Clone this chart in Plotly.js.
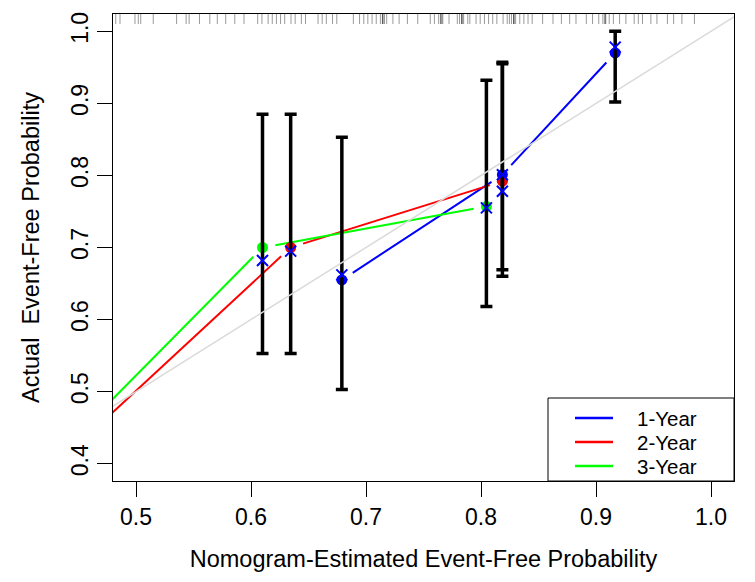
<!DOCTYPE html>
<html>
<head>
<meta charset="utf-8">
<script src="https://cdn.plot.ly/plotly-3.0.1.min.js"></script>
<style>
  html, body { margin: 0; padding: 0; background: #ffffff; }
  #chart { width: 755px; height: 582px; }
</style>
</head>
<body>
<div id="chart"></div>
<script>
// ---- Calibration groups: nomogram-estimated vs observed event-free probability ----
// 1-year
const year1Pred = [0.679, 0.8186, 0.9167];
const year1Obs  = [0.655, 0.801, 0.970];
const year1Lo   = [0.503, 0.660, 0.902];
const year1Hi   = [0.853, 0.957, 1.000];
const year1Corr = [0.662, 0.801, 0.978];
// 2-year (lowest group lies left of the shown range)
const year2Pred = [0.452, 0.6345, 0.8186];
const year2Obs  = [0.430, 0.700, 0.792];
const year2Lo   = [null, 0.553, 0.669];
const year2Hi   = [null, 0.885, 0.955];
const year2Corr = [null, 0.695, 0.778];
// 3-year (lowest group lies left of the shown range)
const year3Pred = [0.452, 0.610, 0.8047];
const year3Obs  = [0.445, 0.700, 0.757];
const year3Lo   = [null, 0.553, 0.618];
const year3Hi   = [null, 0.885, 0.932];
const year3Corr = [null, 0.682, 0.755];

// Individual nomogram predictions (rug along the top edge)
const rugPred = [
  0.4824, 0.4861, 0.4991, 0.5020, 0.5041, 0.5150, 0.5353, 0.5436, 0.5462, 0.5552,
  0.5642, 0.5707, 0.5780, 0.5859, 0.5939, 0.6058, 0.6095, 0.6149, 0.6185, 0.6221,
  0.6257, 0.6293, 0.6348, 0.6384, 0.6438, 0.6474, 0.6583, 0.6619, 0.6655, 0.6709,
  0.6746, 0.6890, 0.6944, 0.6981, 0.7016, 0.7053, 0.7089, 0.7125, 0.7143, 0.7143,
  0.7150, 0.7161, 0.7180, 0.7234, 0.7288, 0.7360, 0.7450, 0.7559, 0.7595, 0.7632,
  0.7650, 0.7650, 0.7660, 0.7668, 0.7722, 0.7794, 0.7813, 0.7831, 0.7831, 0.7840,
  0.7849, 0.7885, 0.7903, 0.7957, 0.7993, 0.8030, 0.8066, 0.8102, 0.8138, 0.8192,
  0.8228, 0.8247, 0.8265, 0.8283, 0.8283, 0.8290, 0.8301, 0.8337, 0.8373, 0.8409,
  0.8445, 0.8536, 0.8626, 0.8699, 0.8771, 0.8826, 0.8916, 0.8970, 0.9024, 0.9060,
  0.9078, 0.9078, 0.9085, 0.9115, 0.9151, 0.9205, 0.9260, 0.9332, 0.9368, 0.9404,
  0.9477, 0.9530, 0.9621, 0.9675, 0.9747, 0.9856
];

// Ideal calibration (45-degree reference)
const idealLine = [0.3, 1.1];

const xTicks = [0.5, 0.6, 0.7, 0.8, 0.9, 1.0];
const yTicks = [0.4, 0.5, 0.6, 0.7, 0.8, 0.9, 1.0];
const xTickText = ["0.5", "0.6", "0.7", "0.8", "0.9", "1.0"];
const yTickText = ["0.4", "0.5", "0.6", "0.7", "0.8", "0.9", "1.0"];

const seriesNames = ["1-Year", "2-Year", "3-Year"];
const seriesColors = ["#0000ff", "#ff0000", "#00ff00"];

// ---- plot geometry ----
const W = 755, H = 582;
const M = { l: 113, r: 21, t: 14, b: 101 };
const plotW = W - M.l - M.r, plotH = H - M.t - M.b;
const xRange = [0.48, 1.02];
const yRange = [0.376, 1.024];
const FONT = "Liberation Sans, Arial, Helvetica, sans-serif";

// Connect points like type="b": each segment stops short of its points
function gappedPath(xs, ys, gapPx) {
  const sx = plotW / (xRange[1] - xRange[0]);
  const sy = plotH / (yRange[1] - yRange[0]);
  const ox = [], oy = [];
  for (let i = 0; i < xs.length - 1; i++) {
    const dx = (xs[i + 1] - xs[i]) * sx, dy = (ys[i + 1] - ys[i]) * sy;
    const L = Math.hypot(dx, dy);
    if (L <= 2 * gapPx) continue;
    const f = gapPx / L;
    ox.push(xs[i] + (xs[i + 1] - xs[i]) * f, xs[i + 1] - (xs[i + 1] - xs[i]) * f, null);
    oy.push(ys[i] + (ys[i + 1] - ys[i]) * f, ys[i + 1] - (ys[i + 1] - ys[i]) * f, null);
  }
  return { x: ox, y: oy };
}

const groups = [
  { pred: year1Pred, obs: year1Obs, lo: year1Lo, hi: year1Hi, corr: year1Corr },
  { pred: year2Pred, obs: year2Obs, lo: year2Lo, hi: year2Hi, corr: year2Corr },
  { pred: year3Pred, obs: year3Obs, lo: year3Lo, hi: year3Hi, corr: year3Corr }
];

const traces = [];

// connecting lines
groups.forEach((g, k) => {
  const p = gappedPath(g.pred, g.obs, 13);
  traces.push({
    x: p.x, y: p.y, mode: "lines", type: "scatter", showlegend: false,
    line: { color: seriesColors[k], width: 2 }, hoverinfo: "skip"
  });
});

// observed points
groups.forEach((g, k) => {
  traces.push({
    x: g.pred, y: g.obs, mode: "markers", type: "scatter", showlegend: false,
    marker: { color: seriesColors[k], size: 11, symbol: "circle", line: { width: 0 } }
  });
});

// confidence bars
groups.forEach((g) => {
  traces.push({
    x: g.pred, y: g.obs, mode: "markers", type: "scatter", showlegend: false,
    marker: { size: 1, opacity: 0 },
    error_y: {
      type: "data", symmetric: false,
      array: g.hi.map((h, i) => h === null ? null : h - g.obs[i]),
      arrayminus: g.lo.map((l, i) => l === null ? null : g.obs[i] - l),
      color: "#000000", thickness: 3.5, width: 6
    },
    hoverinfo: "skip"
  });
});

// bias-corrected estimates
groups.forEach((g) => {
  traces.push({
    x: g.pred, y: g.corr, mode: "markers", type: "scatter", showlegend: false,
    marker: { symbol: "x-thin-open", size: 11, color: "#0000ff", line: { color: "#0000ff", width: 2 } }
  });
});

// 45-degree reference line
traces.push({
  x: idealLine, y: idealLine, mode: "lines", type: "scatter", showlegend: false,
  line: { color: "#dadada", width: 1.5 }, hoverinfo: "skip"
});

// rug ticks along the top border
const shapes = rugPred.map(v => ({
  type: "line", xref: "x", yref: "paper", x0: v, x1: v, y0: 1, y1: 1 - 10 / plotH,
  line: { color: "rgba(0,0,0,0.4)", width: 1 }, layer: "above"
}));

// legend box (bottom right)
const pxX = px => (px - M.l) / plotW;
const pxY = py => (M.t + plotH - py) / plotH;
shapes.push({
  type: "rect", xref: "paper", yref: "paper",
  x0: pxX(548), x1: 1, y0: 0, y1: pxY(398),
  fillcolor: "#ffffff", line: { color: "#000000", width: 1 }, layer: "above"
});
const legendRows = [418, 442, 466];
const annotations = [];
seriesNames.forEach((name, k) => {
  shapes.push({
    type: "line", xref: "paper", yref: "paper",
    x0: pxX(575), x1: pxX(613), y0: pxY(legendRows[k]), y1: pxY(legendRows[k]),
    line: { color: seriesColors[k], width: 2.5 }, layer: "above"
  });
  annotations.push({
    xref: "paper", yref: "paper", x: pxX(635), y: pxY(legendRows[k]),
    xanchor: "left", yanchor: "middle", showarrow: false, text: name,
    font: { family: FONT, size: 20.5, color: "#000000" }
  });
});

const axisCommon = {
  showgrid: false, zeroline: false, showline: true, mirror: true,
  linecolor: "#000000", linewidth: 1.3,
  ticks: "outside", ticklen: 15, tickwidth: 1, tickcolor: "#000000",
  tickfont: { family: FONT, size: 23, color: "#000000" },
  fixedrange: true
};

const layout = {
  width: W, height: H,
  margin: { l: M.l, r: M.r, t: M.t, b: M.b, pad: 0 },
  paper_bgcolor: "#ffffff", plot_bgcolor: "#ffffff",
  showlegend: false,
  xaxis: Object.assign({}, axisCommon, {
    range: xRange, tickmode: "array", tickvals: xTicks, ticktext: xTickText,
    title: { text: "Nomogram-Estimated Event-Free Probability", font: { family: FONT, size: 23.5, color: "#000000" }, standoff: 21 },
    automargin: false
  }),
  yaxis: Object.assign({}, axisCommon, {
    range: yRange, tickmode: "array", tickvals: yTicks, ticktext: yTickText, tickangle: -90,
    title: { text: "Actual  Event-Free Probability", font: { family: FONT, size: 23.5, color: "#000000" }, standoff: 20 },
    automargin: false
  }),
  shapes: shapes,
  annotations: annotations
};

Plotly.newPlot("chart", traces, layout, { displayModeBar: false, staticPlot: true });
</script>
</body>
</html>
